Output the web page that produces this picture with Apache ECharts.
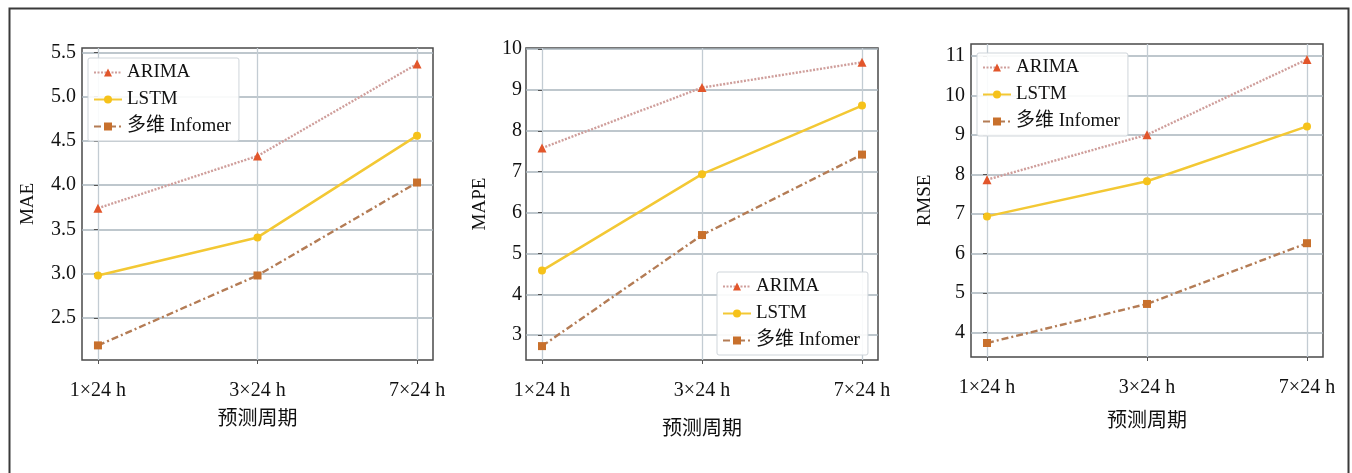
<!DOCTYPE html>
<html>
<head>
<meta charset="utf-8">
<script src="https://cdn.jsdelivr.net/npm/echarts@6/dist/echarts.min.js"></script>
<style>
html,body{margin:0;padding:0;background:#fff;}
#c{width:1352px;height:473px;}
</style>
</head>
<body>
<div id="c"></div>
<script>
// ---- data ----
const periods = ['1×24 h', '3×24 h', '7×24 h'];
const seriesNames = ['ARIMA', 'LSTM', '多维 Infomer'];
const xAxisName = '预测周期';
const metricNames = ['MAE', 'MAPE', 'RMSE'];

const maeARIMA = [3.74, 4.33, 5.37];
const maeLSTM = [2.98, 3.41, 4.56];
const maeInformer = [2.19, 2.98, 4.03];

const mapeARIMA = [7.58, 9.06, 9.68];
const mapeLSTM = [4.58, 6.94, 8.62];
const mapeInformer = [2.73, 5.45, 7.42];

const rmseARIMA = [7.87, 9.01, 10.92];
const rmseLSTM = [6.94, 7.83, 9.22];
const rmseInformer = [3.73, 4.72, 6.26];

const maeTicks = [2.5, 3.0, 3.5, 4.0, 4.5, 5.0, 5.5];
const mapeTicks = [3, 4, 5, 6, 7, 8, 9, 10];
const rmseTicks = [4, 5, 6, 7, 8, 9, 10, 11];

// ---- styling ----
const FONT = "'Liberation Serif', 'Noto Sans CJK SC', serif";
const TXT = '#111';
const styles = [
  { line: '#cf9e9b', marker: '#e2562b', symbol: 'triangle', size: 9, type: [2, 1.5], width: 2.4 },
  { line: '#f3c834', marker: '#f6c21a', symbol: 'circle', size: 8, type: 'solid', width: 2.5 },
  { line: '#b47c55', marker: '#c8702c', symbol: 'rect', size: 8, type: [7, 3, 2, 3], width: 2.4 }
];

const panels = [
  { name: metricNames[0], data: [maeARIMA, maeLSTM, maeInformer], ticks: maeTicks, min: 2.025, max: 5.55,
    grid: { left: 82, top: 48, width: 351, height: 312 }, yNameGap: 44, xNameGap: 50, yLabelMargin: 6,
    legend: { left: 88, top: 58 }, fmt: v => v.toFixed(1) },
  { name: metricNames[1], data: [mapeARIMA, mapeLSTM, mapeInformer], ticks: mapeTicks, min: 2.39, max: 10.03,
    grid: { left: 526, top: 48, width: 352, height: 312 }, yNameGap: 36, xNameGap: 60, yLabelMargin: 4,
    legend: { left: 717, top: 272 }, fmt: v => String(v) },
  { name: metricNames[2], data: [rmseARIMA, rmseLSTM, rmseInformer], ticks: rmseTicks, min: 3.375, max: 11.31,
    grid: { left: 971, top: 44, width: 352, height: 313 }, yNameGap: 36, xNameGap: 55, yLabelMargin: 6,
    legend: { left: 977, top: 53 }, fmt: v => String(v) }
];

const grids = [], xAxes = [], yAxes = [], series = [], legends = [];
const xIdx = periods.map((p, i) => i);

panels.forEach((p, pi) => {
  grids.push(Object.assign({ show: true, borderColor: '#4a4a4a', borderWidth: 1.5, backgroundColor: '#fff' }, p.grid));
  xAxes.push({
    type: 'value', gridIndex: pi, min: -0.1, max: 2.1,
    name: xAxisName, nameLocation: 'middle', nameGap: p.xNameGap,
    nameTextStyle: { fontFamily: FONT, fontSize: 20, color: TXT },
    axisLine: { show: false },
    axisTick: { show: true, length: 4, customValues: xIdx, lineStyle: { color: '#555', width: 1 } },
    axisLabel: { customValues: xIdx, margin: 21, fontFamily: FONT, fontSize: 20, color: TXT,
      formatter: v => periods[Math.round(v)] },
    splitLine: { show: true, lineStyle: { color: '#c3ccd3', width: 1.3 } }
  });
  yAxes.push({
    type: 'value', gridIndex: pi, min: p.min, max: p.max,
    name: p.name, nameLocation: 'middle', nameGap: p.yNameGap,
    nameTextStyle: { fontFamily: FONT, fontSize: 19, color: TXT },
    axisLine: { show: false },
    axisTick: { show: true, length: 4, customValues: p.ticks, lineStyle: { color: '#555', width: 1 } },
    axisLabel: { customValues: p.ticks, margin: p.yLabelMargin, fontFamily: FONT, fontSize: 20, color: TXT,
      formatter: p.fmt },
    splitLine: { show: true, lineStyle: { color: '#a9b4bd', width: 1.6 } }
  });
  p.data.forEach((vals, si) => {
    const s = styles[si];
    series.push({
      type: 'line', name: seriesNames[si], xAxisIndex: pi, yAxisIndex: pi,
      data: vals.map((v, i) => [xIdx[i], v]),
      symbol: s.symbol, symbolSize: s.size, showSymbol: true,
      itemStyle: { color: s.marker },
      lineStyle: { color: s.line, type: s.type, width: s.width },
      z: 3 + si, animation: false
    });
  });
  legends.push({
    orient: 'vertical', left: p.legend.left, top: p.legend.top,
    data: seriesNames, itemWidth: 28, itemHeight: 10, itemGap: 8,
    padding: [5, 8, 5, 5], backgroundColor: 'rgba(255,255,255,0.9)',
    borderColor: '#cfd5da', borderWidth: 1, borderRadius: 2,
    textStyle: { fontFamily: FONT, fontSize: 19, color: TXT }, selectedMode: false
  });
});

const chart = echarts.init(document.getElementById('c'), null, { renderer: 'canvas' });
chart.setOption({
  animation: false,
  backgroundColor: '#fff',
  graphic: [{
    type: 'rect', left: 7, top: 6, z: -1, silent: true,
    shape: { width: 1339, height: 520 },
    style: { fill: 'none', stroke: '#3a3a3a', lineWidth: 2 }
  }],
  grid: grids, xAxis: xAxes, yAxis: yAxes, series: series, legend: legends
});
</script>
</body>
</html>
